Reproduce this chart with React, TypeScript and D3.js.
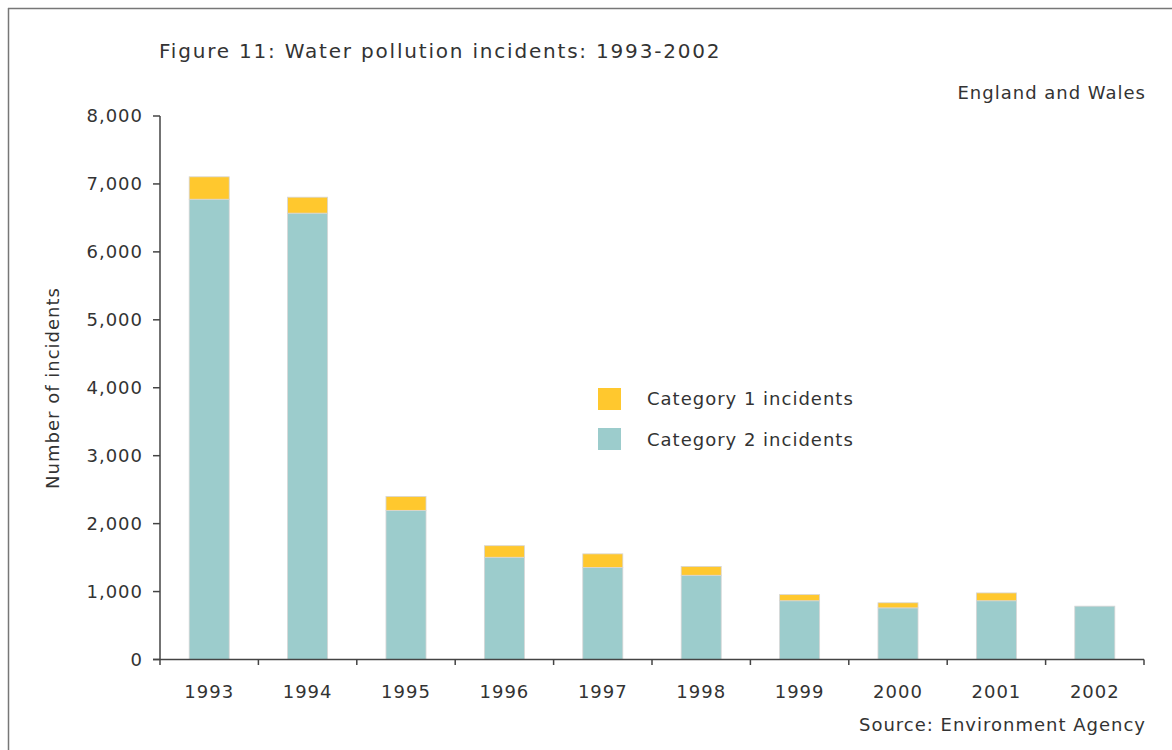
import React from "react";
import * as d3 from "d3";

const years = ["1993", "1994", "1995", "1996", "1997", "1998", "1999", "2000", "2001", "2002"];
const category2 = [6775, 6570, 2195, 1505, 1355, 1240, 865, 760, 865, 785];
const category1 = [330, 235, 205, 170, 200, 130, 90, 75, 115, 0];
const yTicks = [0, 1000, 2000, 3000, 4000, 5000, 6000, 7000, 8000];

const W = 1172;
const H = 750;
const FONT = "'DejaVu Sans', Verdana, sans-serif";
const TEXT = "#333";
const AXIS = "#444";
const C1 = "#FFC82E";
const C2 = "#9CCCCC";
const LS = 1;

export default function App() {
  const x = d3.scaleBand<string>().domain(years).range([160, 1144]).paddingInner(0.593).paddingOuter(0.2965);
  const y = d3.scaleLinear().domain([0, 8000]).range([659.5, 116]);
  const step = x.step();
  const x0 = x.range()[0];
  const fmt = d3.format(",");
  const stack = d3.stack<number>().keys(["c2", "c1"]).value((i, k) => (k === "c2" ? category2[i] : category1[i]));
  const series = stack(years.map((_, i) => i));
  const colors: Record<string, string> = { c2: C2, c1: C1 };

  return (
    <svg width={W} height={H} style={{ position: "absolute", left: 0, top: 0, background: "#fff" }} fontFamily={FONT}>
      <line x1={8} y1={8.5} x2={W} y2={8.5} stroke="#777" strokeWidth={1.5} />
      <line x1={8.5} y1={8} x2={8.5} y2={H} stroke="#777" strokeWidth={1.5} />

      <text x={159} y={58} fontSize={20} letterSpacing={1.8} fill={TEXT}>Figure 11: Water pollution incidents: 1993-2002</text>
      <text x={1146} y={99} fontSize={18} letterSpacing={LS} fill={TEXT} textAnchor="end">England and Wales</text>
      <text x={1146} y={731} fontSize={18} letterSpacing={LS} fill={TEXT} textAnchor="end">Source: Environment Agency</text>

      {series.map((s) => (
        <g key={s.key} fill={colors[s.key]}>
          {s.map((d, i) =>
            d[1] - d[0] > 0 ? (
              <rect key={i} x={x(years[i])} y={y(d[1])} width={x.bandwidth()} height={y(d[0]) - y(d[1])} stroke="#d6d6d6" strokeWidth={0.8} />
            ) : null
          )}
        </g>
      ))}

      {/* Y axis */}
      <line x1={160} y1={116} x2={160} y2={659.5} stroke={AXIS} strokeWidth={1.5} />
      {yTicks.map((t) => (
        <g key={t}>
          <line x1={153} x2={160} y1={y(t)} y2={y(t)} stroke={AXIS} strokeWidth={1.5} />
          <text x={143} y={y(t)} dy="0.36em" fontSize={18} letterSpacing={LS} fill={TEXT} textAnchor="end">{fmt(t)}</text>
        </g>
      ))}
      <text transform="translate(59,388) rotate(-90)" fontSize={18} letterSpacing={LS} fill={TEXT} textAnchor="middle">Number of incidents</text>

      {/* X axis */}
      <line x1={153} y1={659.5} x2={1144} y2={659.5} stroke={AXIS} strokeWidth={1.5} />
      {d3.range(years.length + 1).map((i) => (
        <line key={i} x1={x0 + i * step} x2={x0 + i * step} y1={659.5} y2={665} stroke={AXIS} strokeWidth={1.5} />
      ))}
      {years.map((yr) => (
        <text key={yr} x={(x(yr) as number) + x.bandwidth() / 2} y={698} fontSize={18} letterSpacing={LS} fill={TEXT} textAnchor="middle">{yr}</text>
      ))}

      {/* Legend */}
      <rect x={598} y={388} width={23} height={22} fill={C1} />
      <text x={647} y={405} fontSize={18} letterSpacing={LS} fill={TEXT}>Category 1 incidents</text>
      <rect x={598} y={428} width={23} height={22} fill={C2} />
      <text x={647} y={446} fontSize={18} letterSpacing={LS} fill={TEXT}>Category 2 incidents</text>
    </svg>
  );
}
